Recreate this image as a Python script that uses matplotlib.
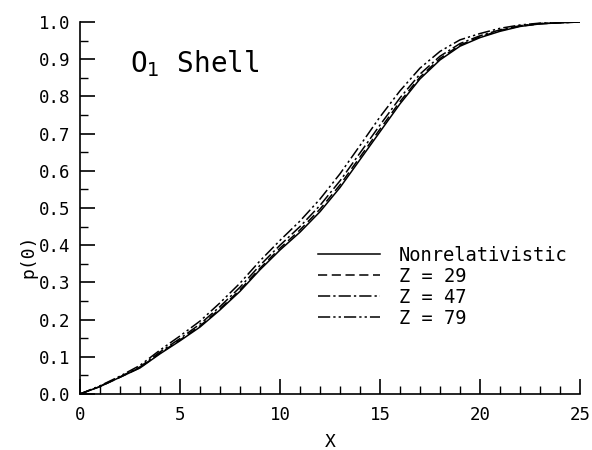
import matplotlib
matplotlib.use("Agg")
import matplotlib.pyplot as plt
from matplotlib.ticker import MultipleLocator

x = [0, 1, 2, 3, 4, 5, 6, 7, 8, 9, 10, 11, 12, 13, 14, 15, 16, 17, 18, 19, 20, 21, 22, 23, 24, 25]
p_nonrel = [0, 0.020, 0.045, 0.070, 0.108, 0.143, 0.180, 0.226, 0.276, 0.334, 0.387, 0.435, 0.490,
            0.555, 0.630, 0.705, 0.780, 0.847, 0.898, 0.935, 0.958, 0.975, 0.988, 0.995, 0.998, 1.0]
p_z29 = [0, 0.020, 0.045, 0.071, 0.110, 0.145, 0.183, 0.229, 0.280, 0.338, 0.392, 0.441, 0.497,
         0.562, 0.637, 0.712, 0.786, 0.852, 0.902, 0.938, 0.960, 0.977, 0.989, 0.995, 0.998, 1.0]
p_z47 = [0, 0.021, 0.046, 0.073, 0.113, 0.149, 0.188, 0.235, 0.287, 0.346, 0.400, 0.450, 0.507,
         0.573, 0.648, 0.723, 0.796, 0.860, 0.908, 0.942, 0.963, 0.979, 0.990, 0.996, 0.998, 1.0]
p_z79 = [0, 0.022, 0.048, 0.077, 0.118, 0.156, 0.196, 0.245, 0.298, 0.358, 0.413, 0.465, 0.524,
         0.592, 0.668, 0.745, 0.815, 0.876, 0.921, 0.952, 0.969, 0.983, 0.992, 0.997, 0.999, 1.0]
labels = ["Nonrelativistic", "Z = 29", "Z = 47", "Z = 79"]

mono = "DejaVu Sans Mono"
fig = plt.figure(figsize=(5.92, 4.5), dpi=100)
ax = fig.add_axes([80/592, 1-394/450, 500/592, 372/450])

styles = [dict(ls="-"), dict(ls=(0, (6, 3))), dict(ls=(0, (8, 2, 1.5, 2))), dict(ls=(0, (8, 2, 1.5, 2, 1.5, 2)))]
for ys, lab, st in zip([p_nonrel, p_z29, p_z47, p_z79], labels, styles):
    ax.plot(x, ys, color="black", lw=1.1, label=lab, **st)

ax.set_xlim(0, 25)
ax.set_ylim(0, 1.0)
ax.spines["top"].set_visible(False)
ax.spines["right"].set_visible(False)
for s in ("left", "bottom"):
    ax.spines[s].set_linewidth(1.2)
ax.xaxis.set_major_locator(MultipleLocator(5))
ax.xaxis.set_minor_locator(MultipleLocator(1))
ax.yaxis.set_major_locator(MultipleLocator(0.1))
ax.yaxis.set_minor_locator(MultipleLocator(0.05))
ax.tick_params(which="major", direction="in", length=11, width=1.2, labelsize=12.5)
ax.tick_params(which="minor", direction="in", length=6, width=1.0)
ax.tick_params(axis="x", pad=9)
ax.tick_params(axis="y", pad=7)
ax.set_yticklabels([f"{v:.1f}" for v in ax.get_yticks()], family=mono)
ax.set_xticklabels([f"{int(v)}" for v in ax.get_xticks()], family=mono)

ax.set_xlabel("X", family=mono, fontsize=13, labelpad=6)
ax.set_ylabel("p(0)", family=mono, fontsize=13)
ax.yaxis.set_label_coords(-0.085, 0.37)

ax.text(50/500, (394-72)/372, "O$_1$ Shell", transform=ax.transAxes, family=mono,
        fontsize=20, ha="left", va="baseline")

leg = ax.legend(loc="upper left", bbox_to_anchor=(238/500, (394-246)/372), frameon=False,
                prop={"family": mono, "size": 13.5}, handlelength=3.3, handletextpad=1.0,
                labelspacing=0.1, borderaxespad=0, borderpad=0)

fig.savefig("out.png", dpi=100)
